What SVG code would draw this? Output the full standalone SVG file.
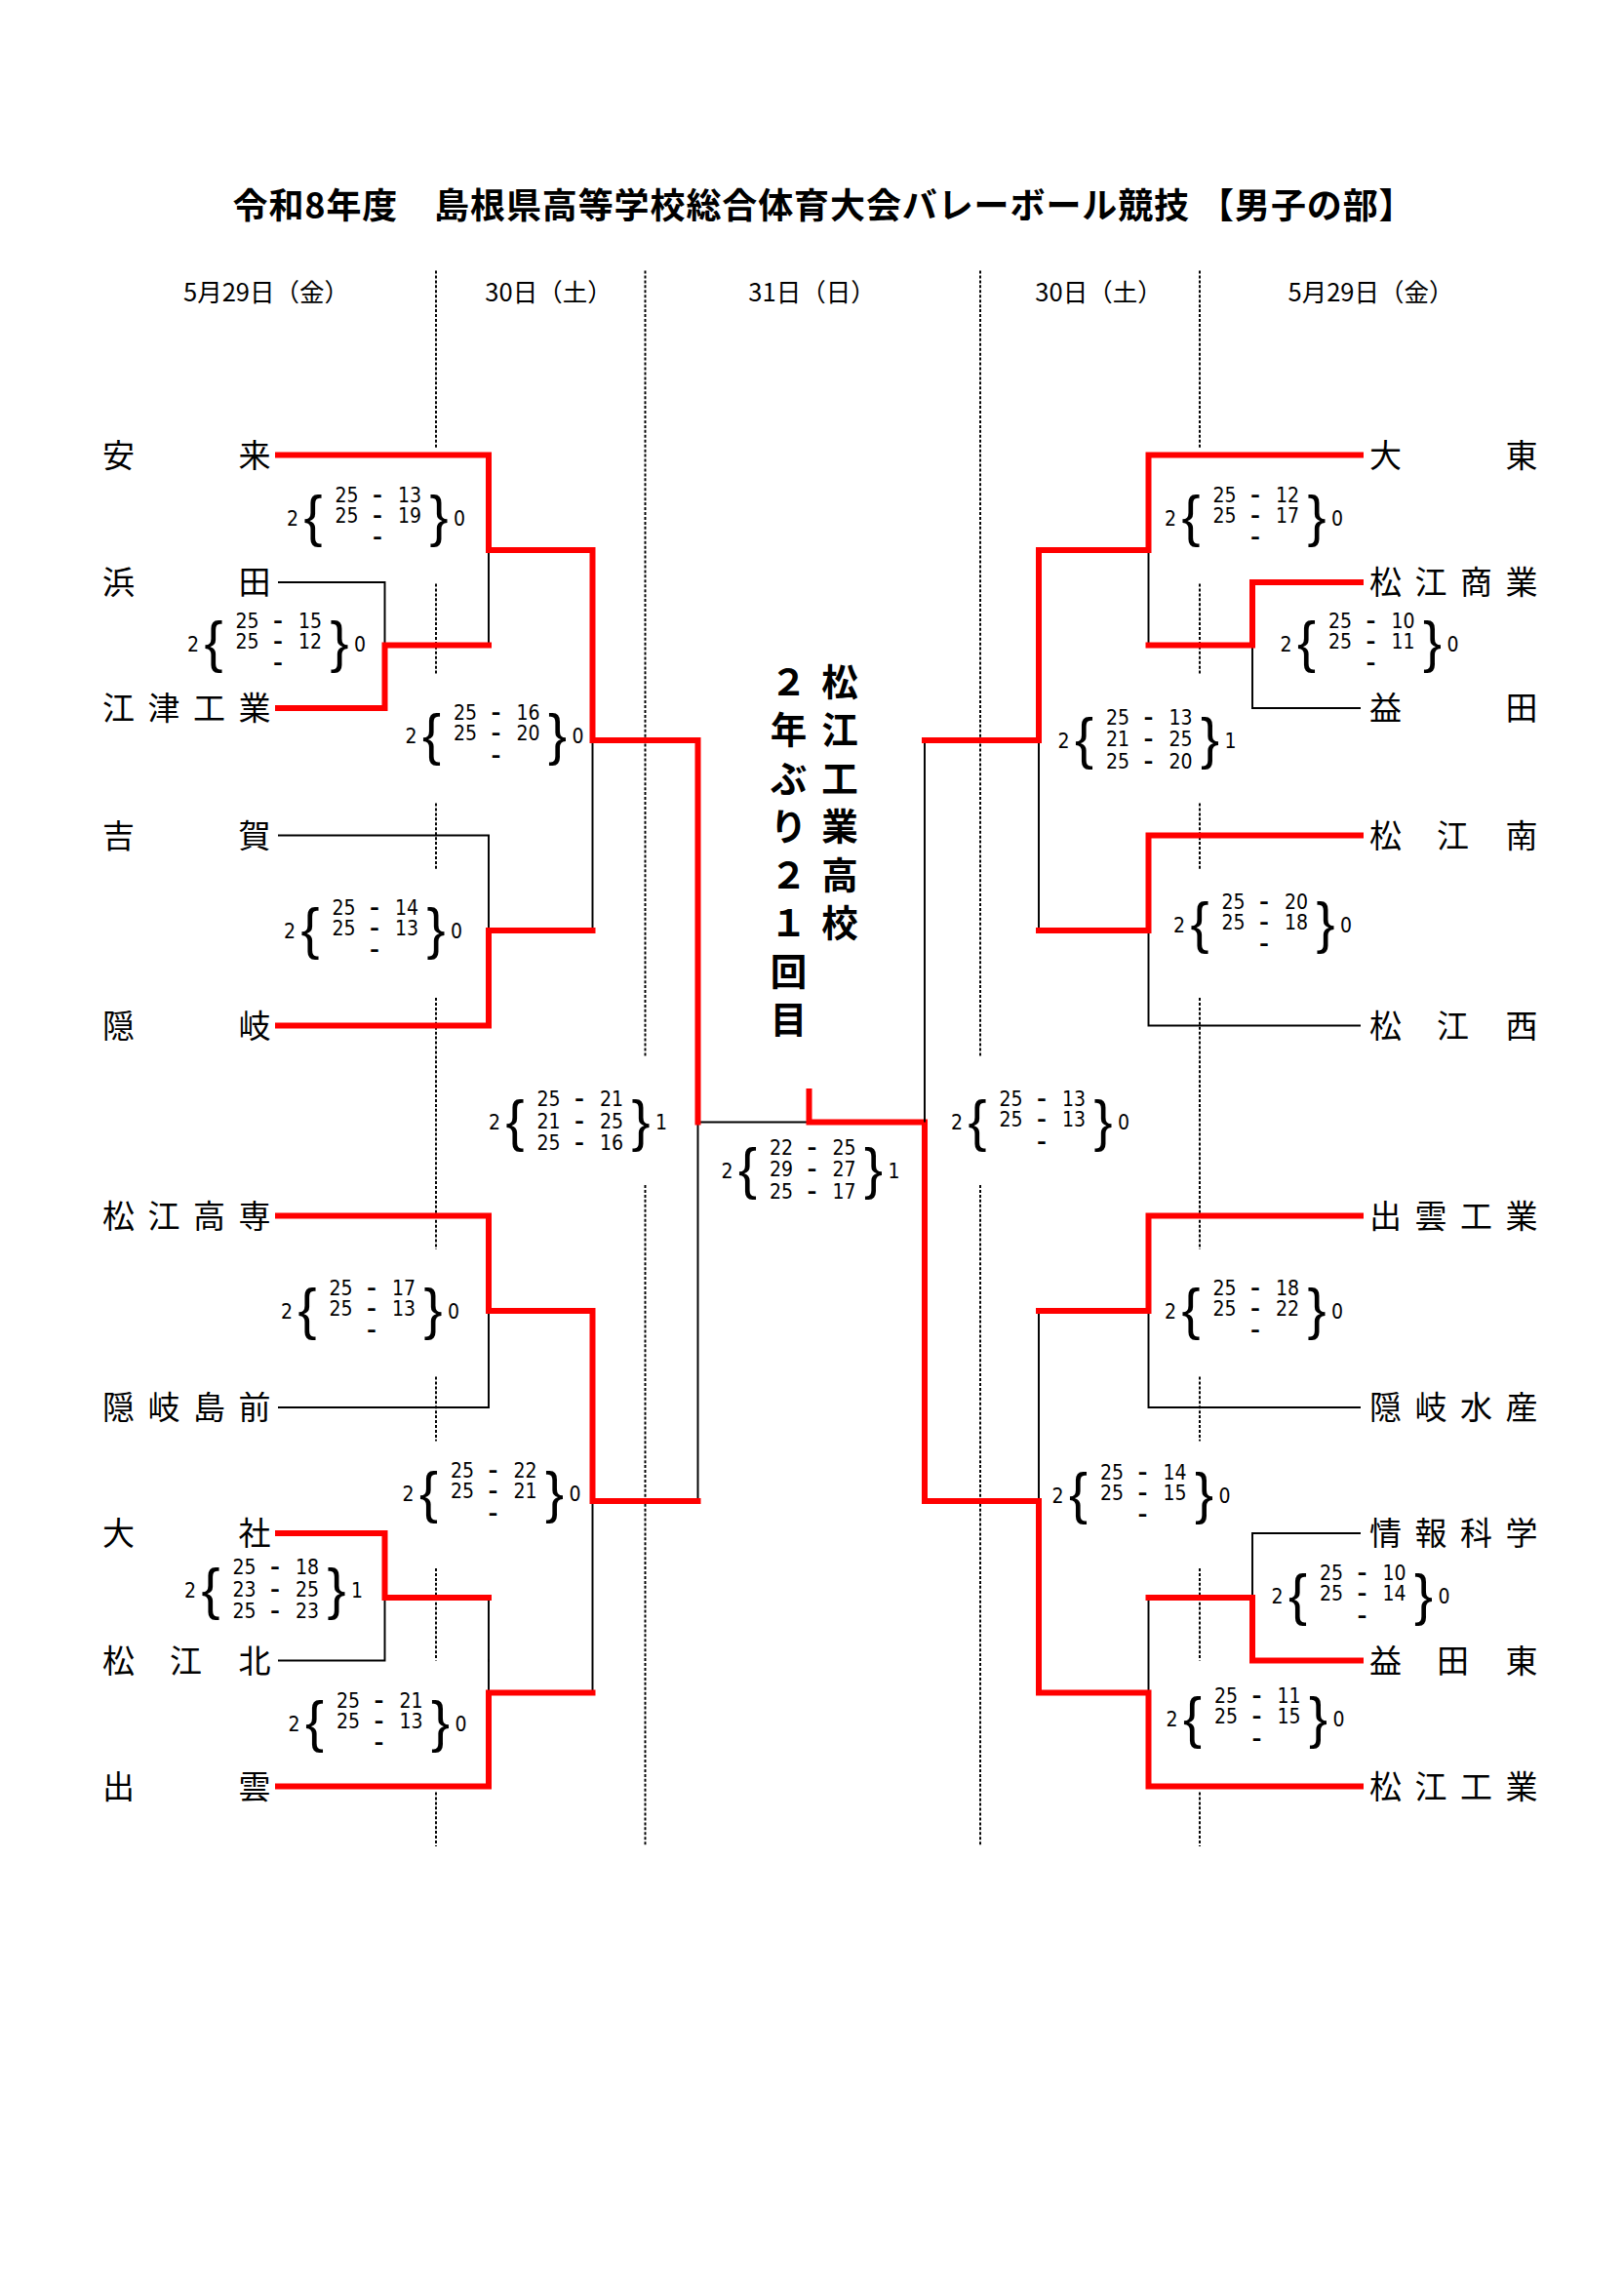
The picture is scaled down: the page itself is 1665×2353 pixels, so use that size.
<svg xmlns="http://www.w3.org/2000/svg" width="1665" height="2353" viewBox="0 0 1665 2353">
<style>
.t{font-family:"Noto Sans CJK JP",sans-serif;font-size:22px;fill:#000}
.ttl{font-family:"Noto Sans CJK JP",sans-serif;font-size:24px;font-weight:bold;text-anchor:middle;letter-spacing:0.6px}
.d{font-family:"Noto Sans CJK JP",sans-serif;font-size:17px;text-anchor:middle}
.s{font-family:"Liberation Sans Narrow","DejaVu Sans Condensed","Liberation Sans",sans-serif;font-size:14px;text-anchor:middle}
.s.m{font-weight:bold}
.br{font-family:"Liberation Sans",sans-serif;font-size:38px;text-anchor:middle}
.v{font-family:"Noto Sans CJK JP",sans-serif;font-size:25px;font-weight:bold;text-anchor:middle}
.r{fill:none;stroke:#f00;stroke-width:4;stroke-linecap:square}
.k{fill:none;stroke:#000;stroke-width:1.3}
.dot{fill:none;stroke:#000;stroke-width:1.3;stroke-dasharray:2 1.3}
</style>
<rect width="1665" height="2353" fill="#fff"/>
<g transform="scale(1.5)">
<text class="ttl" x="563" y="149">令和8年度　島根県高等学校総合体育大会バレーボール競技 【男子の部】</text>
<g id="dates">
<text class="d" x="182" y="206">5月29日（金）</text>
<text class="d" x="375" y="206">30日（土）</text>
<text class="d" x="555" y="206">31日（日）</text>
<text class="d" x="751" y="206">30日（土）</text>
<text class="d" x="937" y="206">5月29日（金）</text>
</g>
<g id="dotted">
<path class="dot" d="M298 185V307M298 399V461M298 549V594M298 682V854M298 941V985M298 1072V1135M298 1225V1262"/>
<path class="dot" d="M820 185V307M820 399V461M820 549V594M820 682V854M820 941V985M820 1072V1135M820 1225V1262"/>
<path class="dot" d="M441 185V722M441 810V1262M670 185V722M670 810V1262"/>
</g>
<g id="connectors">
<path class="k" d="M190 398H263V441M334 376V441M190 571H334V636M405 506V636M477 767H553M190 962H334V896M477 767V1026M405 1026V1157M190 1135H263V1092M334 1092V1157"/>
<path class="r" d="M190 311H334V376H405V506H477V767M190 484H263V441H334M190 701H334V636H405M190 831H334V896H405V1026H477M190 1048H263V1092H334M190 1221H334V1157H405"/>
<path class="r" d="M553 746V767H632V1026"/>
<path class="k" d="M930 484H856V441M785 376V441M930 701H785V636M710 506V636M632 506V767M930 962H785V896M710 896V1026M930 1048H856V1092M785 1092V1157"/>
<path class="r" d="M930 311H785V376H710V506H632M930 398H856V441H785M930 571H785V636H710M930 831H785V896H710M632 1026H710V1157H785M930 1135H856V1092H785M930 1221H785V1157"/>
</g>
<g id="team-left">
<g id="t-ayasu"><text class="t" x="70" y="319">安</text><text class="t" x="163" y="319">来</text></g>
<g id="t-hamada"><text class="t" x="70" y="406">浜</text><text class="t" x="163" y="406">田</text></g>
<g id="t-gotsu"><text class="t" x="70 101 132 163" y="492">江津工業</text></g>
<g id="t-yoshika"><text class="t" x="70" y="579">吉</text><text class="t" x="163" y="579">賀</text></g>
<g id="t-oki"><text class="t" x="70" y="709">隠</text><text class="t" x="163" y="709">岐</text></g>
<g id="t-matsuekosen"><text class="t" x="70 101 132 163" y="839">松江高専</text></g>
<g id="t-okidozen"><text class="t" x="70 101 132 163" y="970">隠岐島前</text></g>
<g id="t-taisha"><text class="t" x="70" y="1056">大</text><text class="t" x="163" y="1056">社</text></g>
<g id="t-matsuekita"><text class="t" x="70 116 163" y="1143">松江北</text></g>
<g id="t-izumo"><text class="t" x="70" y="1229">出</text><text class="t" x="163" y="1229">雲</text></g>
</g>
<g id="team-right">
<g id="t-daito"><text class="t" x="936" y="319">大</text><text class="t" x="1029" y="319">東</text></g>
<g id="t-matsueshogyo"><text class="t" x="936 967 998 1029" y="406">松江商業</text></g>
<g id="t-masuda"><text class="t" x="936" y="492">益</text><text class="t" x="1029" y="492">田</text></g>
<g id="t-matsueminami"><text class="t" x="936 982 1029" y="579">松江南</text></g>
<g id="t-matsuenishi"><text class="t" x="936 982 1029" y="709">松江西</text></g>
<g id="t-izumokogyo"><text class="t" x="936 967 998 1029" y="839">出雲工業</text></g>
<g id="t-okisuisan"><text class="t" x="936 967 998 1029" y="970">隠岐水産</text></g>
<g id="t-johokagaku"><text class="t" x="936 967 998 1029" y="1056">情報科学</text></g>
<g id="t-masudahigashi"><text class="t" x="936 982 1029" y="1143">益田東</text></g>
<g id="t-matsuekogyo"><text class="t" x="936 967 998 1029" y="1229">松江工業</text></g>
</g>
<g id="champion">
<text class="v" x="539" y="475">２</text><text class="v" x="539" y="508">年</text><text class="v" x="539" y="541">ぶ</text><text class="v" x="539" y="574">り</text><text class="v" x="539" y="607">２</text><text class="v" x="539" y="640">１</text><text class="v" x="539" y="673">回</text><text class="v" x="539" y="706">目</text>
<text class="v" x="574" y="475">松</text><text class="v" x="574" y="508">江</text><text class="v" x="574" y="541">工</text><text class="v" x="574" y="574">業</text><text class="v" x="574" y="607">高</text><text class="v" x="574" y="640">校</text>
</g>
<g id="scores">
<g transform="translate(200,354)"><text class="s" x="0" y="5">2</text><text class="br" x="14" y="12">{</text><text class="br" x="100" y="12">}</text><text class="s" x="114" y="5">0</text><text class="s" x="37" y="-11">25</text><text class="s m" x="58" y="-11">–</text><text class="s" x="80" y="-11">13</text><text class="s" x="37" y="3">25</text><text class="s m" x="58" y="3">–</text><text class="s" x="80" y="3">19</text><text class="s m" x="58" y="18">–</text></g>
<g transform="translate(132,440)"><text class="s" x="0" y="5">2</text><text class="br" x="14" y="12">{</text><text class="br" x="100" y="12">}</text><text class="s" x="114" y="5">0</text><text class="s" x="37" y="-11">25</text><text class="s m" x="58" y="-11">–</text><text class="s" x="80" y="-11">15</text><text class="s" x="37" y="3">25</text><text class="s m" x="58" y="3">–</text><text class="s" x="80" y="3">12</text><text class="s m" x="58" y="18">–</text></g>
<g transform="translate(281,503)"><text class="s" x="0" y="5">2</text><text class="br" x="14" y="12">{</text><text class="br" x="100" y="12">}</text><text class="s" x="114" y="5">0</text><text class="s" x="37" y="-11">25</text><text class="s m" x="58" y="-11">–</text><text class="s" x="80" y="-11">16</text><text class="s" x="37" y="3">25</text><text class="s m" x="58" y="3">–</text><text class="s" x="80" y="3">20</text><text class="s m" x="58" y="18">–</text></g>
<g transform="translate(198,636)"><text class="s" x="0" y="5">2</text><text class="br" x="14" y="12">{</text><text class="br" x="100" y="12">}</text><text class="s" x="114" y="5">0</text><text class="s" x="37" y="-11">25</text><text class="s m" x="58" y="-11">–</text><text class="s" x="80" y="-11">14</text><text class="s" x="37" y="3">25</text><text class="s m" x="58" y="3">–</text><text class="s" x="80" y="3">13</text><text class="s m" x="58" y="18">–</text></g>
<g transform="translate(338,767)"><text class="s" x="0" y="5">2</text><text class="br" x="14" y="12">{</text><text class="br" x="100" y="12">}</text><text class="s" x="114" y="5">1</text><text class="s" x="37" y="-11">25</text><text class="s m" x="58" y="-11">–</text><text class="s" x="80" y="-11">21</text><text class="s" x="37" y="4">21</text><text class="s m" x="58" y="4">–</text><text class="s" x="80" y="4">25</text><text class="s" x="37" y="19">25</text><text class="s m" x="58" y="19">–</text><text class="s" x="80" y="19">16</text></g>
<g transform="translate(497,800)"><text class="s" x="0" y="5">2</text><text class="br" x="14" y="12">{</text><text class="br" x="100" y="12">}</text><text class="s" x="114" y="5">1</text><text class="s" x="37" y="-11">22</text><text class="s m" x="58" y="-11">–</text><text class="s" x="80" y="-11">25</text><text class="s" x="37" y="4">29</text><text class="s m" x="58" y="4">–</text><text class="s" x="80" y="4">27</text><text class="s" x="37" y="19">25</text><text class="s m" x="58" y="19">–</text><text class="s" x="80" y="19">17</text></g>
<g transform="translate(196,896)"><text class="s" x="0" y="5">2</text><text class="br" x="14" y="12">{</text><text class="br" x="100" y="12">}</text><text class="s" x="114" y="5">0</text><text class="s" x="37" y="-11">25</text><text class="s m" x="58" y="-11">–</text><text class="s" x="80" y="-11">17</text><text class="s" x="37" y="3">25</text><text class="s m" x="58" y="3">–</text><text class="s" x="80" y="3">13</text><text class="s m" x="58" y="18">–</text></g>
<g transform="translate(279,1021)"><text class="s" x="0" y="5">2</text><text class="br" x="14" y="12">{</text><text class="br" x="100" y="12">}</text><text class="s" x="114" y="5">0</text><text class="s" x="37" y="-11">25</text><text class="s m" x="58" y="-11">–</text><text class="s" x="80" y="-11">22</text><text class="s" x="37" y="3">25</text><text class="s m" x="58" y="3">–</text><text class="s" x="80" y="3">21</text><text class="s m" x="58" y="18">–</text></g>
<g transform="translate(130,1087)"><text class="s" x="0" y="5">2</text><text class="br" x="14" y="12">{</text><text class="br" x="100" y="12">}</text><text class="s" x="114" y="5">1</text><text class="s" x="37" y="-11">25</text><text class="s m" x="58" y="-11">–</text><text class="s" x="80" y="-11">18</text><text class="s" x="37" y="4">23</text><text class="s m" x="58" y="4">–</text><text class="s" x="80" y="4">25</text><text class="s" x="37" y="19">25</text><text class="s m" x="58" y="19">–</text><text class="s" x="80" y="19">23</text></g>
<g transform="translate(201,1178)"><text class="s" x="0" y="5">2</text><text class="br" x="14" y="12">{</text><text class="br" x="100" y="12">}</text><text class="s" x="114" y="5">0</text><text class="s" x="37" y="-11">25</text><text class="s m" x="58" y="-11">–</text><text class="s" x="80" y="-11">21</text><text class="s" x="37" y="3">25</text><text class="s m" x="58" y="3">–</text><text class="s" x="80" y="3">13</text><text class="s m" x="58" y="18">–</text></g>
<g transform="translate(800,354)"><text class="s" x="0" y="5">2</text><text class="br" x="14" y="12">{</text><text class="br" x="100" y="12">}</text><text class="s" x="114" y="5">0</text><text class="s" x="37" y="-11">25</text><text class="s m" x="58" y="-11">–</text><text class="s" x="80" y="-11">12</text><text class="s" x="37" y="3">25</text><text class="s m" x="58" y="3">–</text><text class="s" x="80" y="3">17</text><text class="s m" x="58" y="18">–</text></g>
<g transform="translate(879,440)"><text class="s" x="0" y="5">2</text><text class="br" x="14" y="12">{</text><text class="br" x="100" y="12">}</text><text class="s" x="114" y="5">0</text><text class="s" x="37" y="-11">25</text><text class="s m" x="58" y="-11">–</text><text class="s" x="80" y="-11">10</text><text class="s" x="37" y="3">25</text><text class="s m" x="58" y="3">–</text><text class="s" x="80" y="3">11</text><text class="s m" x="58" y="18">–</text></g>
<g transform="translate(727,506)"><text class="s" x="0" y="5">2</text><text class="br" x="14" y="12">{</text><text class="br" x="100" y="12">}</text><text class="s" x="114" y="5">1</text><text class="s" x="37" y="-11">25</text><text class="s m" x="58" y="-11">–</text><text class="s" x="80" y="-11">13</text><text class="s" x="37" y="4">21</text><text class="s m" x="58" y="4">–</text><text class="s" x="80" y="4">25</text><text class="s" x="37" y="19">25</text><text class="s m" x="58" y="19">–</text><text class="s" x="80" y="19">20</text></g>
<g transform="translate(806,632)"><text class="s" x="0" y="5">2</text><text class="br" x="14" y="12">{</text><text class="br" x="100" y="12">}</text><text class="s" x="114" y="5">0</text><text class="s" x="37" y="-11">25</text><text class="s m" x="58" y="-11">–</text><text class="s" x="80" y="-11">20</text><text class="s" x="37" y="3">25</text><text class="s m" x="58" y="3">–</text><text class="s" x="80" y="3">18</text><text class="s m" x="58" y="18">–</text></g>
<g transform="translate(654,767)"><text class="s" x="0" y="5">2</text><text class="br" x="14" y="12">{</text><text class="br" x="100" y="12">}</text><text class="s" x="114" y="5">0</text><text class="s" x="37" y="-11">25</text><text class="s m" x="58" y="-11">–</text><text class="s" x="80" y="-11">13</text><text class="s" x="37" y="3">25</text><text class="s m" x="58" y="3">–</text><text class="s" x="80" y="3">13</text><text class="s m" x="58" y="18">–</text></g>
<g transform="translate(800,896)"><text class="s" x="0" y="5">2</text><text class="br" x="14" y="12">{</text><text class="br" x="100" y="12">}</text><text class="s" x="114" y="5">0</text><text class="s" x="37" y="-11">25</text><text class="s m" x="58" y="-11">–</text><text class="s" x="80" y="-11">18</text><text class="s" x="37" y="3">25</text><text class="s m" x="58" y="3">–</text><text class="s" x="80" y="3">22</text><text class="s m" x="58" y="18">–</text></g>
<g transform="translate(723,1022)"><text class="s" x="0" y="5">2</text><text class="br" x="14" y="12">{</text><text class="br" x="100" y="12">}</text><text class="s" x="114" y="5">0</text><text class="s" x="37" y="-11">25</text><text class="s m" x="58" y="-11">–</text><text class="s" x="80" y="-11">14</text><text class="s" x="37" y="3">25</text><text class="s m" x="58" y="3">–</text><text class="s" x="80" y="3">15</text><text class="s m" x="58" y="18">–</text></g>
<g transform="translate(873,1091)"><text class="s" x="0" y="5">2</text><text class="br" x="14" y="12">{</text><text class="br" x="100" y="12">}</text><text class="s" x="114" y="5">0</text><text class="s" x="37" y="-11">25</text><text class="s m" x="58" y="-11">–</text><text class="s" x="80" y="-11">10</text><text class="s" x="37" y="3">25</text><text class="s m" x="58" y="3">–</text><text class="s" x="80" y="3">14</text><text class="s m" x="58" y="18">–</text></g>
<g transform="translate(801,1175)"><text class="s" x="0" y="5">2</text><text class="br" x="14" y="12">{</text><text class="br" x="100" y="12">}</text><text class="s" x="114" y="5">0</text><text class="s" x="37" y="-11">25</text><text class="s m" x="58" y="-11">–</text><text class="s" x="80" y="-11">11</text><text class="s" x="37" y="3">25</text><text class="s m" x="58" y="3">–</text><text class="s" x="80" y="3">15</text><text class="s m" x="58" y="18">–</text></g>
</g>
</g>
</svg>
